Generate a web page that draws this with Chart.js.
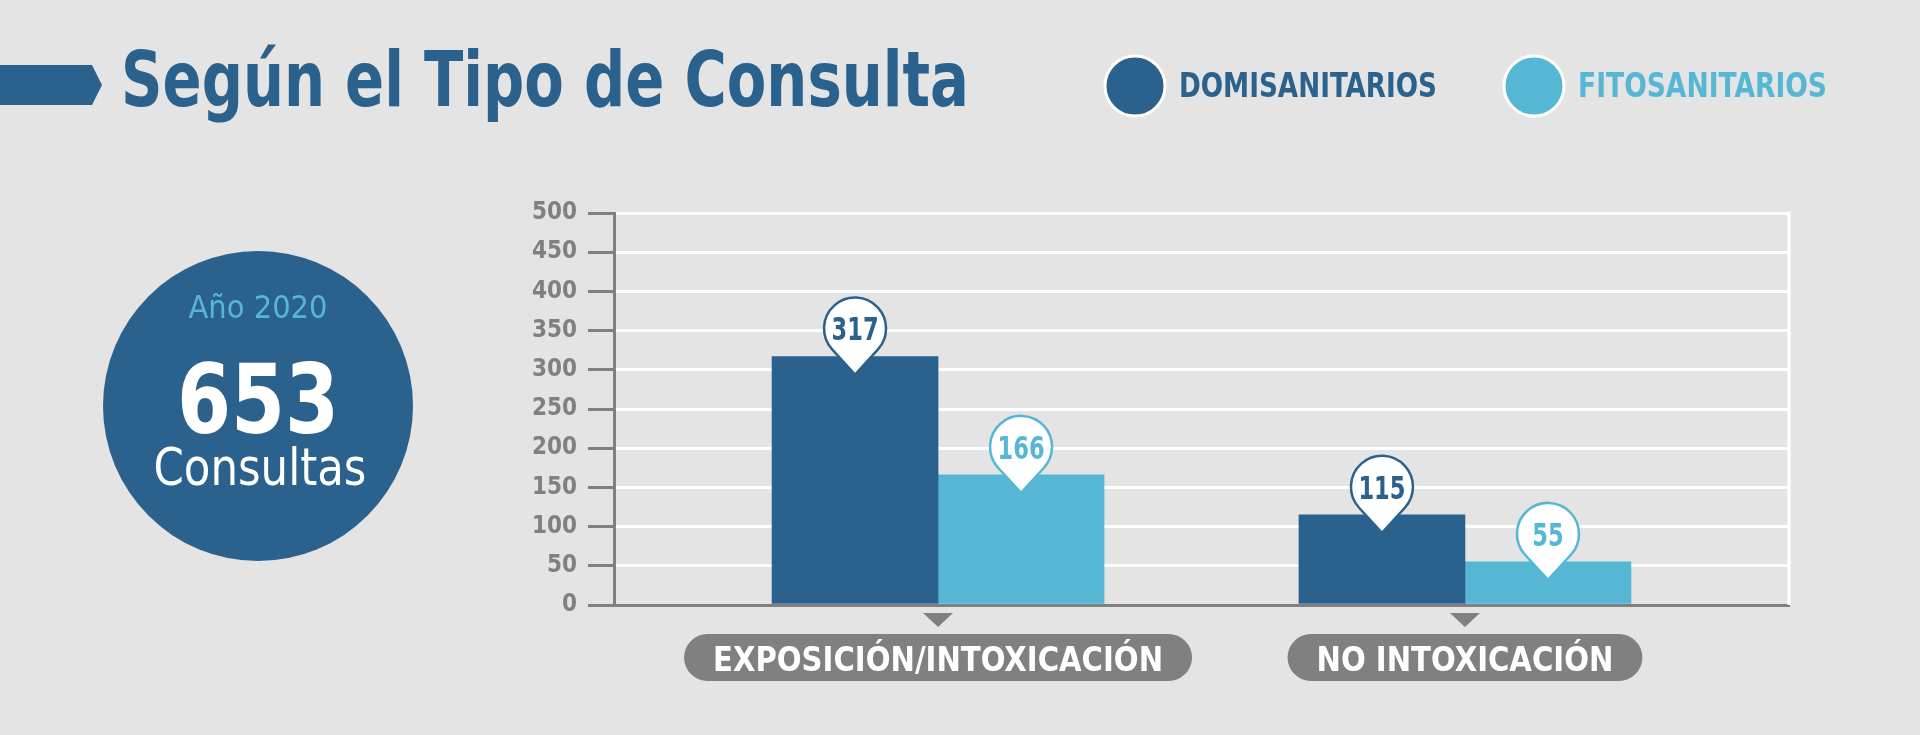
<!DOCTYPE html>
<html>
<head>
<meta charset="utf-8">
<script src="https://cdn.jsdelivr.net/npm/chart.js@4.4.1/dist/chart.umd.min.js"></script>
<style>
  html, body { margin: 0; padding: 0; background: #e4e4e4; }
  #chart { display: block; }
</style>
</head>
<body>
<canvas id="chart" width="1920" height="735"></canvas>
<script>
'use strict'

// data
const categories = ['EXPOSICIÓN/INTOXICACIÓN', 'NO INTOXICACIÓN']
const seriesNames = ['DOMISANITARIOS', 'FITOSANITARIOS']
const domisanitarios = [317, 115]
const fitosanitarios = [166, 55]
const yTicks = [0, 50, 100, 150, 200, 250, 300, 350, 400, 450, 500]

const titleText = 'Según el Tipo de Consulta'
const yearText = 'Año 2020'
const totalText = '653'
const totalLabel = 'Consultas'

const DARK = '#2b618d'
const LIGHT = '#56b7d5'
const GRAY = '#808080'
const BG = '#e4e4e4'
const FONT = "'Liberation Sans Narrow', 'DejaVu Sans Condensed', Roboto, sans-serif"

// draw text squeezed/stretched to a given width
function fitText(ctx, text, x, y, width, align) {
    const w = ctx.measureText(text).width
    ctx.save()
    ctx.translate(x, y)
    ctx.scale(width / w, 1)
    ctx.textAlign = align
    ctx.fillText(text, 0, 0)
    ctx.restore()
}

const decorPlugin = {
    id: 'decor',
    beforeDraw: function(chart) {
        const ctx = chart.ctx
        ctx.save()
        ctx.fillStyle = BG
        ctx.fillRect(0, 0, chart.width, chart.height)

        // title arrow + title
        ctx.fillStyle = DARK
        ctx.beginPath()
        ctx.moveTo(0, 65)
        ctx.lineTo(92, 65)
        ctx.lineTo(102, 85)
        ctx.lineTo(92, 105)
        ctx.lineTo(0, 105)
        ctx.closePath()
        ctx.fill()
        ctx.font = `bold 76px ${FONT}`
        ctx.textBaseline = 'alphabetic'
        fitText(ctx, titleText, 121, 106, 848, 'left')

        // legend
        const legendX = [1135, 1534]
        const legendW = [258, 249]
        const colors = [DARK, LIGHT]
        seriesNames.forEach((name, i) => {
            ctx.beginPath()
            ctx.arc(legendX[i], 86, 30, 0, Math.PI * 2)
            ctx.fillStyle = colors[i]
            ctx.fill()
            ctx.lineWidth = 3
            ctx.strokeStyle = '#ffffff'
            ctx.stroke()
            ctx.font = `bold 33px ${FONT}`
            fitText(ctx, name, legendX[i] + 44, 97, legendW[i], 'left')
        })

        // total circle
        ctx.beginPath()
        ctx.arc(258, 406, 155, 0, Math.PI * 2)
        ctx.fillStyle = DARK
        ctx.fill()
        ctx.fillStyle = LIGHT
        ctx.font = `32px ${FONT}`
        fitText(ctx, yearText, 258, 318, 139, 'center')
        ctx.fillStyle = '#ffffff'
        ctx.font = `bold 97px ${FONT}`
        fitText(ctx, totalText, 258, 433, 162, 'center')
        ctx.font = `52px ${FONT}`
        fitText(ctx, totalLabel, 260, 485, 213, 'center')
        ctx.restore()
    },
    beforeDatasetsDraw: function(chart) {
        const {ctx, chartArea} = chart
        // right border of the plot
        ctx.save()
        ctx.strokeStyle = '#ffffff'
        ctx.lineWidth = 3
        ctx.beginPath()
        ctx.moveTo(chartArea.right, chartArea.top - 1.5)
        ctx.lineTo(chartArea.right, chartArea.bottom)
        ctx.stroke()
        ctx.restore()
    },
    afterDatasetsDraw: function(chart) {
        const {ctx, chartArea} = chart
        const xScale = chart.scales.x
        ctx.save()

        // value pins
        ctx.font = `bold 32px ${FONT}`
        const pinSqueeze = 47 / ctx.measureText('317').width
        chart.data.datasets.forEach((ds, di) => {
            const meta = chart.getDatasetMeta(di)
            meta.data.forEach((bar, i) => {
                const r = 31
                const cx = bar.x
                const cy = bar.y - 28
                const tipY = bar.y + 18
                const a = Math.acos(r / (tipY - cy))
                ctx.beginPath()
                ctx.moveTo(cx, tipY)
                ctx.arc(cx, cy, r, Math.PI / 2 + a, Math.PI / 2 - a + Math.PI * 2)
                ctx.closePath()
                ctx.fillStyle = '#ffffff'
                ctx.fill()
                ctx.lineWidth = 2.5
                ctx.strokeStyle = ds.backgroundColor
                ctx.stroke()
                ctx.fillStyle = ds.backgroundColor
                ctx.textBaseline = 'alphabetic'
                const txt = String(ds.data[i].y)
                fitText(ctx, txt, cx, cy + 12, ctx.measureText(txt).width * pinSqueeze, 'center')
            })
        })

        // category pills
        ctx.font = `bold 34px ${FONT}`
        const squeeze = 450 / ctx.measureText(categories[0]).width
        categories.forEach((label, i) => {
            const cx = xScale.getPixelForValue(i)
            const base = chartArea.bottom
            ctx.fillStyle = GRAY
            ctx.beginPath()
            ctx.moveTo(cx - 15, base + 8)
            ctx.lineTo(cx + 15, base + 8)
            ctx.lineTo(cx, base + 22)
            ctx.closePath()
            ctx.fill()

            const tw = ctx.measureText(label).width * squeeze
            const pw = tw + 58
            const h = 47
            const top = base + 29
            ctx.beginPath()
            ctx.roundRect(cx - pw / 2, top, pw, h, h / 2)
            ctx.fill()
            ctx.fillStyle = '#ffffff'
            ctx.textBaseline = 'alphabetic'
            fitText(ctx, label, cx, top + 37, tw, 'center')
        })
        ctx.restore()
    }
}

new Chart(document.getElementById('chart'), {
    type: 'bar',
    data: {
        datasets: [
            {
                label: seriesNames[0],
                data: domisanitarios.map((v, i) => ({x: i, y: v})),
                backgroundColor: DARK,
                borderWidth: 0,
                barThickness: 166,
            },
            {
                label: seriesNames[1],
                data: fitosanitarios.map((v, i) => ({x: i, y: v})),
                backgroundColor: LIGHT,
                borderWidth: 0,
                barThickness: 166,
            }
        ]
    },
    options: {
        responsive: false,
        animation: false,
        layout: {
            padding: {left: 510, right: 131, top: 213, bottom: 130}
        },
        plugins: {
            legend: {display: false},
            tooltip: {enabled: false}
        },
        scales: {
            x: {
                type: 'linear',
                offset: false,
                min: -0.615,
                max: 1.615,
                ticks: {display: false},
                grid: {display: false, drawTicks: false, offset: false},
                border: {display: true, color: GRAY, width: 3}
            },
            y: {
                min: 0,
                max: 500,
                afterBuildTicks: function(scale) {
                    scale.ticks = yTicks.map(v => ({value: v}))
                },
                afterFit: function(scale) {
                    scale.width = 104
                },
                ticks: {
                    color: GRAY,
                    padding: 11,
                    font: {family: FONT, size: 24, weight: 'bold'}
                },
                grid: {
                    color: ctx => ctx.tick && ctx.tick.value === 0 ? 'rgba(0,0,0,0)' : '#ffffff',
                    lineWidth: 3,
                    tickColor: GRAY,
                    tickWidth: 3,
                    tickLength: 26
                },
                border: {color: GRAY, width: 3}
            }
        }
    },
    plugins: [decorPlugin]
})
</script>
</body>
</html>
